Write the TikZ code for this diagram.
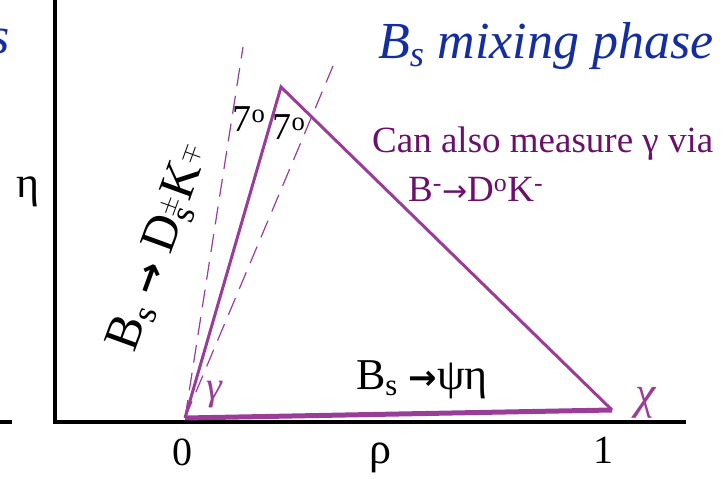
\documentclass[tikz,border=0pt]{standalone}
\usepackage{fontspec}
\setmainfont{Liberation Serif}
\newfontfamily\arrowfont{DejaVu Sans}
\definecolor{tri}{RGB}{153,61,153}
\definecolor{darkpurple}{RGB}{108,16,108}
\definecolor{bluetxt}{RGB}{20,45,160}
\begin{document}
\begin{tikzpicture}[x=1pt,y=-1pt,
  axis/.style={line width=3.5pt,black},
  triline/.style={line width=3pt,tri,line join=miter},
  dashline/.style={line width=1.2pt,tri,dash pattern=on 18pt off 10pt},
  lbl/.style={inner sep=0pt,font=\fontsize{40}{44}\selectfont}
]
\useasboundingbox (0,0) rectangle (728,479);
% axes
\coordinate (ytop) at (55,0);
\coordinate (orig) at (55,422);
\coordinate (xend) at (686,422);
\coordinate (stubL) at (0,422);
\coordinate (stubR) at (12,422);
\draw[axis] (ytop) -- (orig) -- (xend);
\draw[axis] (stubL) -- (stubR);
% triangle
\coordinate (O) at (185,418);
\coordinate (A) at (281,87);
\coordinate (C) at (612,410);
\coordinate (D1) at (243,47);
\coordinate (D2) at (333,66);
\draw[dashline] (O) -- (D1);
\draw[dashline] (O) -- (D2);
\draw[triline] (O) -- (A) -- (C);
\draw[tri,line width=5pt] (O) -- (C);
% labels
\node[lbl,text=bluetxt,font=\fontsize{52}{56}\selectfont\itshape] (sfrag) at (0,42) {s};
\node[lbl,anchor=base west,text=bluetxt,font=\fontsize{52}{56}\selectfont\itshape] (mix) at (378,58) {B\textsubscript{s} mixing phase};
\node[lbl,anchor=base west,text=darkpurple,font=\fontsize{37}{40}\selectfont] (can) at (372,152) {Can also measure γ via};
\node[lbl,anchor=base west,text=darkpurple,font=\fontsize{37}{40}\selectfont] (bdk) at (408,201) {B\textsuperscript{-}{\arrowfont\fontsize{30}{34}\selectfont →}D\textsuperscript{o}K\textsuperscript{-}};
\node[lbl,font=\fontsize{44}{48}\selectfont] (eta) at (28,192) {η};
\node[lbl] (zero) at (182,452) {0};
\node[lbl,font=\fontsize{44}{48}\selectfont] (rho) at (380,458) {ρ};
\node[lbl] (one) at (603,450) {1};
\node[lbl,font=\fontsize{44}{48}\selectfont] (psi) at (422,380) {B\textsubscript{s} {\arrowfont\bfseries\fontsize{34}{36}\selectfont →}ψη};
\node[lbl,text=tri,font=\fontsize{40}{44}\selectfont\itshape] (gam) at (214,395) {γ};
\node[lbl,text=tri,font=\fontsize{46}{50}\selectfont\itshape] (chi) at (646,403) {χ};
\node[lbl,font=\fontsize{38}{40}\selectfont] (sevL) at (249,119) {7\textsuperscript{o}};
\node[lbl,font=\fontsize{38}{40}\selectfont] (sevR) at (289,127) {7\textsuperscript{o}};
\node[lbl,rotate=70,font=\fontsize{50}{54}\selectfont] (bsd) at (161,248) {B\textsubscript{s} {\arrowfont\bfseries\fontsize{38}{40}\selectfont →} D$_\mathrm{s}^{\pm}$K$^{\mp}$};
\end{tikzpicture}
\end{document}
